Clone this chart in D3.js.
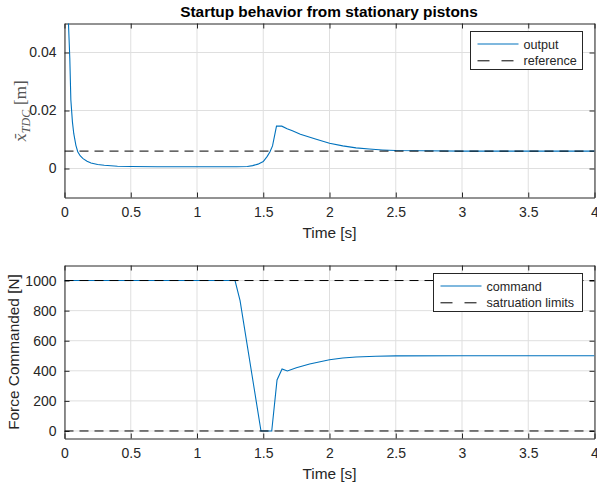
<!DOCTYPE html>
<html>
<head>
<meta charset="utf-8">
<script src="https://cdn.jsdelivr.net/npm/d3@7"></script>
<style>
  body { margin: 0; background: #fff; }
  svg { display: block; font-family: "Liberation Sans", Arial, sans-serif; }
</style>
</head>
<body>
<svg></svg>
<script>
// data
const outT = [0.02, 0.03, 0.04, 0.048, 0.06, 0.07, 0.086, 0.1, 0.118, 0.14, 0.17, 0.2, 0.25, 0.3, 0.4, 0.5, 0.7, 0.9, 1.1, 1.3, 1.38, 1.42, 1.46, 1.5, 1.53, 1.55, 1.57, 1.6, 1.64, 1.68, 1.72, 1.78, 1.9, 2.0, 2.1, 2.2, 2.3, 2.4, 2.5, 2.7, 3.0, 3.5, 4.0];
const outX = [0.07, 0.05, 0.038, 0.0236, 0.016, 0.012, 0.008, 0.0058, 0.0044, 0.0034, 0.0025, 0.0019, 0.0014, 0.0011, 0.0008, 0.0007, 0.0006, 0.0006, 0.0006, 0.0006, 0.0007, 0.001, 0.0015, 0.0024, 0.0042, 0.0057, 0.0078, 0.0146, 0.0146, 0.0137, 0.013, 0.0118, 0.0101, 0.0087, 0.0078, 0.0071, 0.0067, 0.0064, 0.0062, 0.0061, 0.006, 0.006, 0.006];
const refX = 0.006;

const cmdT = [0, 0.5, 1.0, 1.287, 1.325, 1.483, 1.564, 1.604, 1.642, 1.682, 1.75, 1.85, 2.0, 2.1, 2.2, 2.35, 2.5, 3.0, 3.5, 4.0];
const cmdF = [1000, 1000, 1000, 1000, 866, 0, 0, 339, 412, 399, 420, 445, 474, 485, 492, 497, 499, 500, 500, 500];
const satLimits = [0, 1000];

const xTicks = [0, 0.5, 1, 1.5, 2, 2.5, 3, 3.5, 4];
const topYTicks = [0, 0.02, 0.04];
const botYTicks = [0, 200, 400, 600, 800, 1000];

const W = 597, H = 489;
const svg = d3.select("svg").attr("width", W).attr("height", H);

const blue = "#0072BD";
const axisCol = "#262626";
const gridCol = "#dfdfdf";

const x = d3.scaleLinear().domain([0, 4]).range([64.5, 594.5]);

function panel(top, bottom, yDomain, yTicks, yFmt, id) {
  const y = d3.scaleLinear().domain(yDomain).range([bottom, top]);
  const g = svg.append("g");

  g.append("clipPath").attr("id", id)
    .append("rect").attr("x", x.range()[0]).attr("y", top)
    .attr("width", x.range()[1] - x.range()[0]).attr("height", bottom - top);

  // grid
  g.selectAll(".vg").data(xTicks).enter().append("line")
    .attr("x1", d => x(d)).attr("x2", d => x(d))
    .attr("y1", top).attr("y2", bottom)
    .attr("stroke", gridCol).attr("stroke-width", 1);
  g.selectAll(".hg").data(yTicks).enter().append("line")
    .attr("x1", x.range()[0]).attr("x2", x.range()[1])
    .attr("y1", d => y(d)).attr("y2", d => y(d))
    .attr("stroke", gridCol).attr("stroke-width", 1);

  // axes (ticks inward, box)
  const ax = (gen, tx, ty) => g.append("g").attr("transform", `translate(${tx},${ty})`).call(gen);
  const styleAxis = sel => {
    sel.select(".domain").attr("stroke", axisCol);
    sel.selectAll(".tick line").attr("stroke", axisCol);
    sel.selectAll("text").attr("fill", axisCol).style("font-size", "14px")
      .style("font-family", "'Liberation Sans', Arial, sans-serif");
  };
  const bx = ax(d3.axisBottom(x).tickValues(xTicks).tickFormat(d3.format("~g"))
    .tickSizeInner(-5).tickSizeOuter(0).tickPadding(10), 0, bottom);
  styleAxis(bx);
  const tx = ax(d3.axisTop(x).tickValues(xTicks).tickFormat("")
    .tickSizeInner(-5).tickSizeOuter(0), 0, top);
  styleAxis(tx);
  const ly = ax(d3.axisLeft(y).tickValues(yTicks).tickFormat(yFmt)
    .tickSizeInner(-5).tickSizeOuter(0).tickPadding(8), x.range()[0], 0);
  styleAxis(ly);
  const ry = ax(d3.axisRight(y).tickValues(yTicks).tickFormat("")
    .tickSizeInner(-5).tickSizeOuter(0), x.range()[1], 0);
  styleAxis(ry);

  g.append("text").attr("x", (x.range()[0] + x.range()[1]) / 2).attr("y", bottom + 40)
    .attr("text-anchor", "middle").attr("fill", axisCol).style("font-size", "15.4px")
    .text("Time [s]");

  return { g, y };
}

// ---- top panel
const p1 = panel(23.5, 197.5, [-0.01, 0.05], topYTicks, d3.format("~g"), "c1");
const line1 = d3.line().x((d, i) => x(outT[i])).y(d => p1.y(d));
const plot1 = p1.g.append("g").attr("clip-path", "url(#c1)");
plot1.append("path").datum(outX).attr("d", line1)
  .attr("fill", "none").attr("stroke", blue).attr("stroke-width", 1.1);
plot1.append("line").attr("x1", x(0)).attr("x2", x(4))
  .attr("y1", p1.y(refX)).attr("y2", p1.y(refX))
  .attr("stroke", "#000").attr("stroke-width", 1).attr("stroke-dasharray", "9,6");

svg.append("text").attr("x", 329).attr("y", 17).attr("text-anchor", "middle")
  .style("font-size", "15.4px").style("font-weight", "bold").attr("fill", "#000")
  .text("Startup behavior from stationary pistons");

const yl1 = svg.append("text").attr("transform", "translate(26,111) rotate(-90)")
  .attr("text-anchor", "middle").attr("fill", "#555")
  .style("font-family", "'Liberation Serif', 'DejaVu Serif', serif").style("font-size", "17px");
yl1.append("tspan").style("font-style", "italic")
  .style("font-family", "'DejaVu Serif', serif").style("font-size", "15px").text("x\u0304");
yl1.append("tspan").style("font-style", "italic").style("font-size", "12px").attr("dy", 3.5).text("TDC");
yl1.append("tspan").attr("dy", -3.5).attr("dx", 5).text("[m]");

// ---- bottom panel
const p2 = panel(265.5, 438.5, [-50, 1100], botYTicks, d3.format("d"), "c2");
const line2 = d3.line().x((d, i) => x(cmdT[i])).y(d => p2.y(d));
const plot2 = p2.g.append("g").attr("clip-path", "url(#c2)");
plot2.append("path").datum(cmdF).attr("d", line2)
  .attr("fill", "none").attr("stroke", blue).attr("stroke-width", 1.1);
plot2.selectAll(".sat").data(satLimits).enter().append("line")
  .attr("x1", x(0)).attr("x2", x(4))
  .attr("y1", d => p2.y(d)).attr("y2", d => p2.y(d))
  .attr("stroke", "#000").attr("stroke-width", 1).attr("stroke-dasharray", "9,6");

svg.append("text").attr("transform", "translate(19,352) rotate(-90)")
  .attr("text-anchor", "middle").attr("fill", axisCol).style("font-size", "15.4px")
  .text("Force Commanded [N]");

// ---- legends
function legend(x0, y0, w, h, items) {
  const lg = svg.append("g");
  lg.append("rect").attr("x", x0).attr("y", y0).attr("width", w).attr("height", h)
    .attr("fill", "#fff").attr("stroke", axisCol).attr("stroke-width", 1);
  items.forEach((it, i) => {
    const yy = y0 + 12.5 + i * 16.8;
    lg.append("line").attr("x1", x0 + 7).attr("x2", x0 + 48).attr("y1", yy).attr("y2", yy)
      .attr("stroke", it.color).attr("stroke-width", it.dash ? 1 : 1.1)
      .attr("stroke-dasharray", it.dash ? "12,12" : null);
    lg.append("text").attr("x", x0 + 53).attr("y", yy + 4.5).attr("fill", axisCol)
      .style("font-size", "12.6px").text(it.label);
  });
}
legend(470.5, 31.5, 112, 38, [
  { label: "output", color: blue },
  { label: "reference", color: "#000", dash: true }
]);
legend(433.5, 273.5, 149, 38, [
  { label: "command", color: blue },
  { label: "satruation limits", color: "#000", dash: true }
]);
</script>
</body>
</html>
